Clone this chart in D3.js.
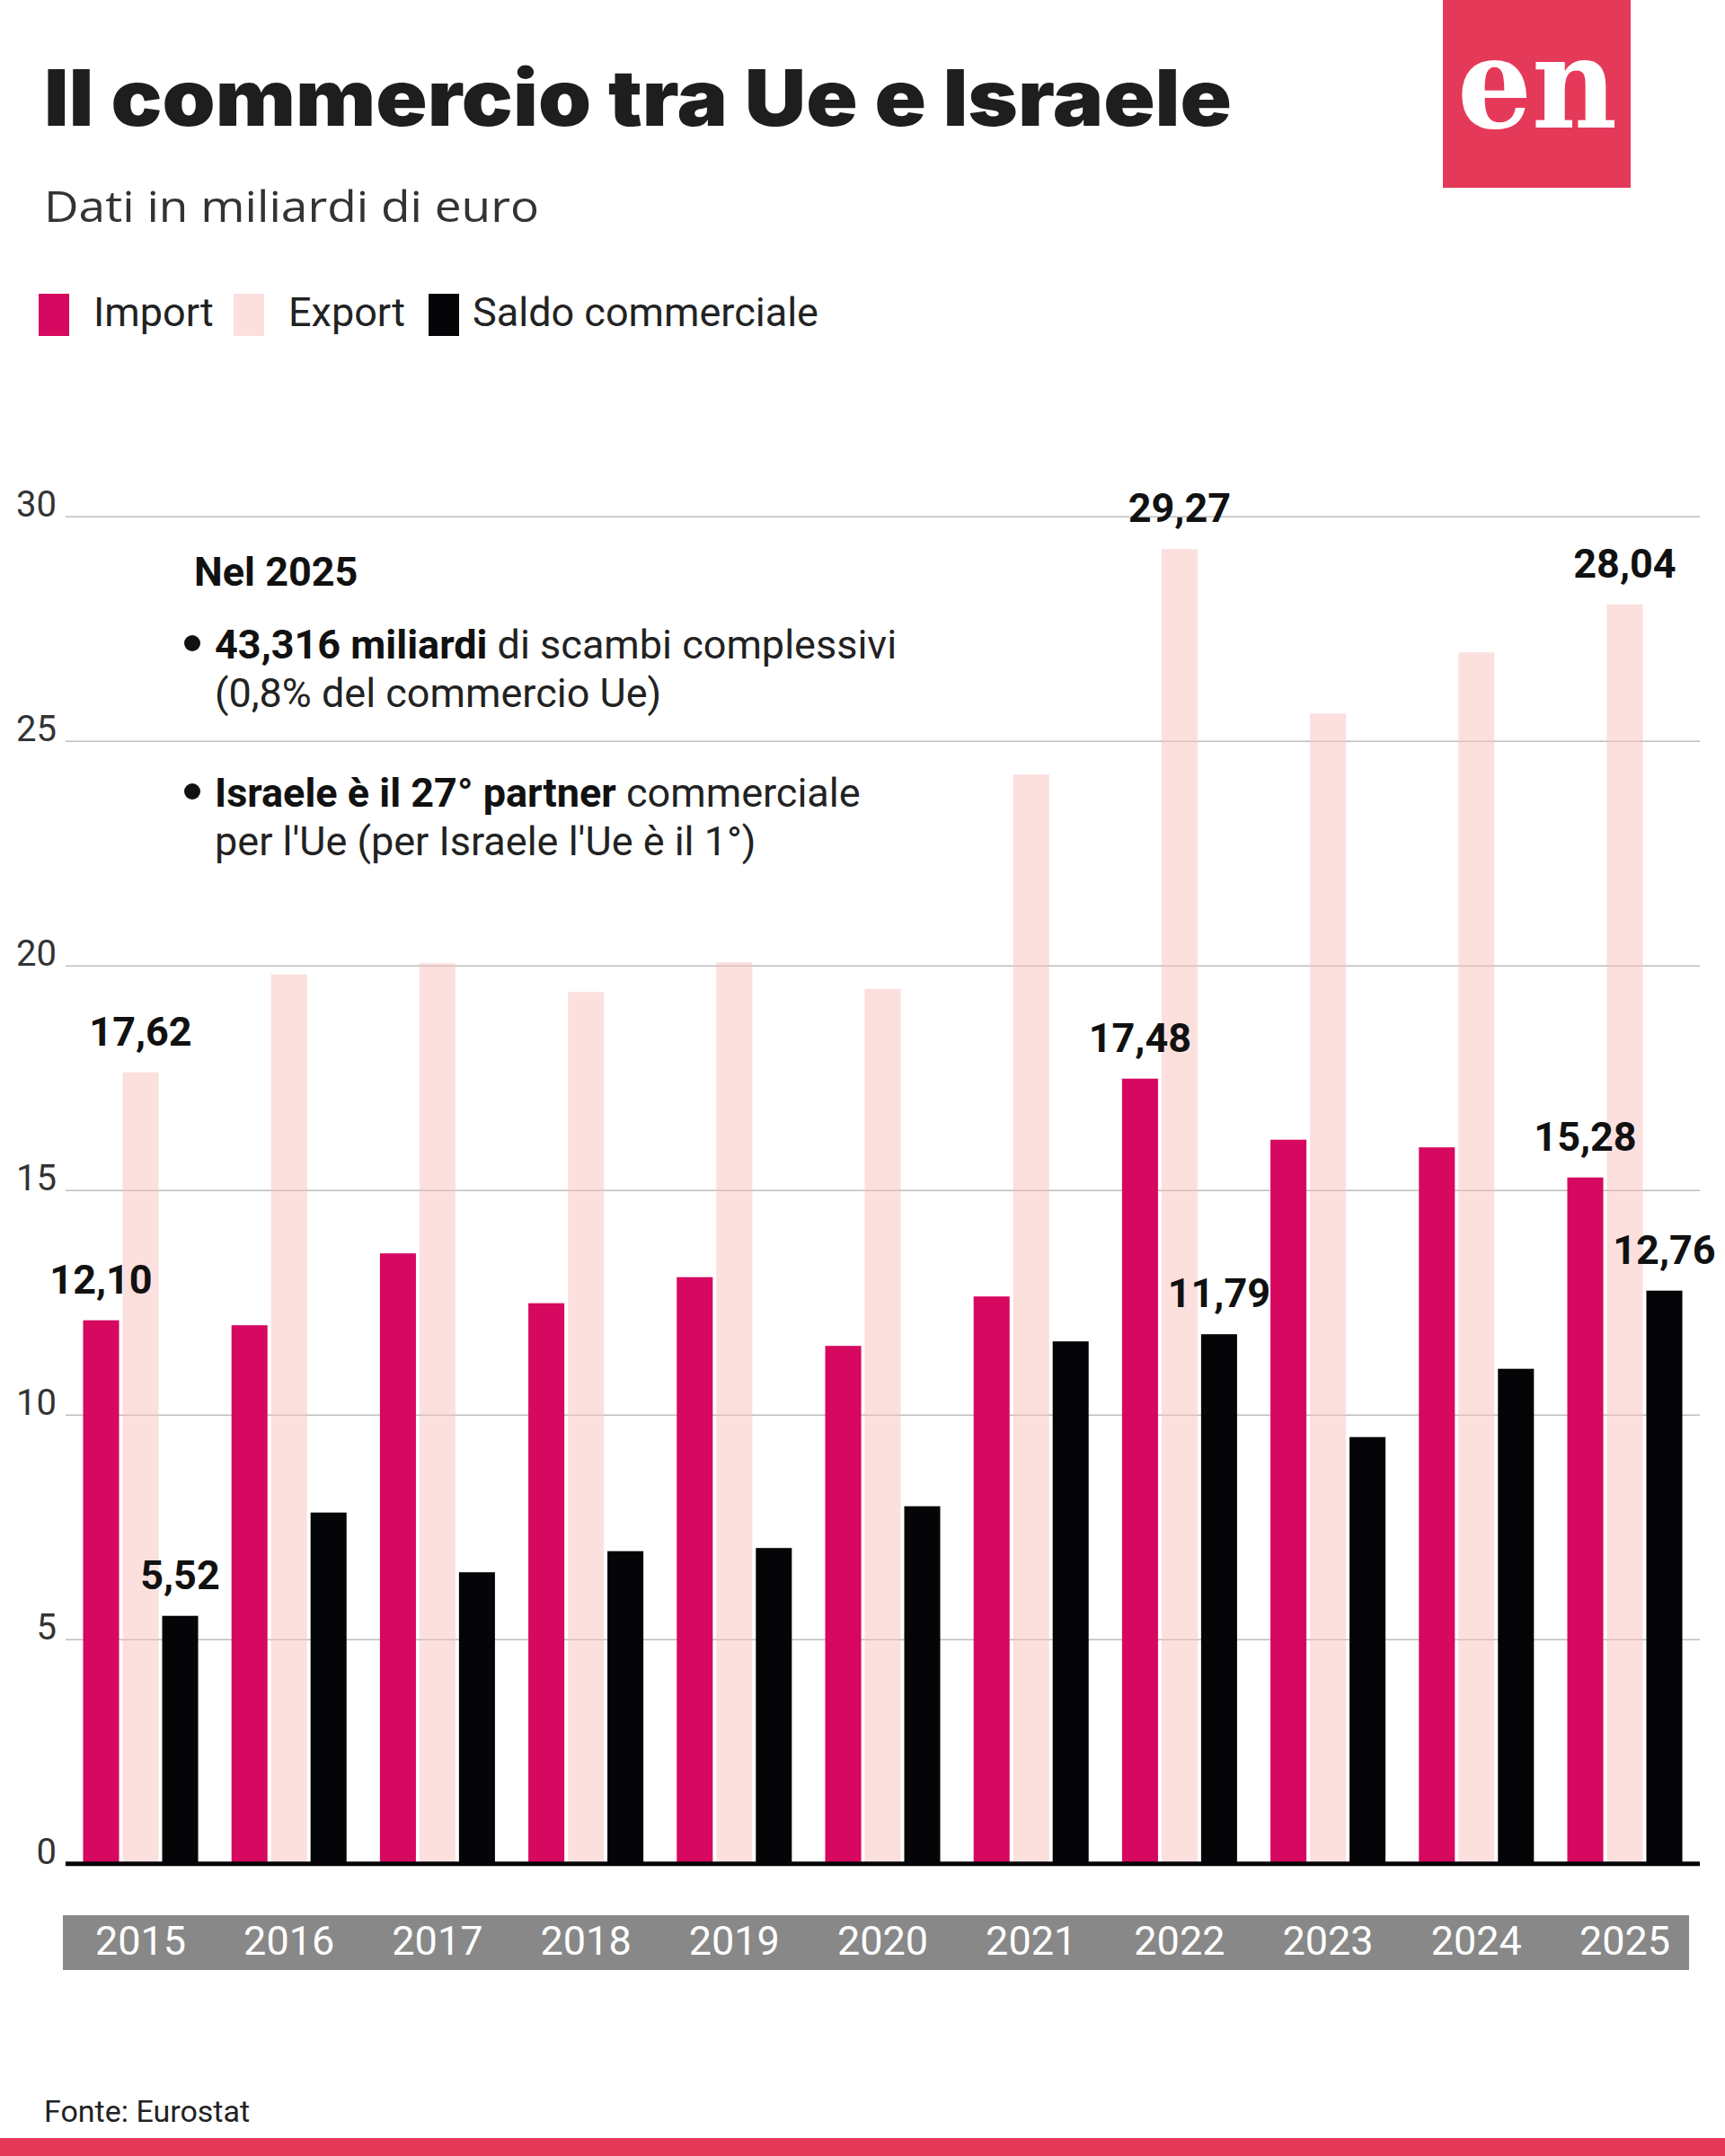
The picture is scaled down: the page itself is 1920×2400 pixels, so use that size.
<!DOCTYPE html>
<html>
<head>
<meta charset="utf-8">
<script src="https://cdn.jsdelivr.net/npm/d3@7"></script>
<style>
  body { margin: 0; background: #fff; }
  text { font-family: Roboto, "Noto Sans", sans-serif; }
</style>
</head>
<body>
<div id="chart"></div>
<script>
// data (miliardi di euro)
var years = ["2015", "2016", "2017", "2018", "2019", "2020", "2021", "2022", "2023", "2024", "2025"];
var importVals = [12.10, 11.99, 13.59, 12.48, 13.06, 11.53, 12.63, 17.48, 16.12, 15.95, 15.28];
var exportVals = [17.62, 19.80, 20.05, 19.41, 20.07, 19.48, 24.25, 29.27, 25.61, 26.97, 28.04];
var saldoVals = [5.52, 7.82, 6.49, 6.96, 7.03, 7.96, 11.63, 11.79, 9.50, 11.02, 12.76];
var seriesNames = ["Import", "Export", "Saldo commerciale"];
var labeledYears = ["2015", "2022", "2025"];
var yTicks = [0, 5, 10, 15, 20, 25, 30];

var width = 1920,
    height = 2400;

var colors = { "Import": "#d6085f", "Export": "#f7c1bd", "Saldo commerciale": "#050508" };
var opac = { "Import": 1, "Export": 0.5, "Saldo commerciale": 1 };

var itFmt = d3.formatLocale({ decimal: ",", thousands: ".", grouping: [3], currency: ["", "€"] }).format(".2f");

var svg = d3.select("#chart")
    .append("svg")
    .attr("width", width)
    .attr("height", height)
    .style("display", "block");

svg.append("rect").attr("width", width).attr("height", height).attr("fill", "#fff");

// header
function fitText(sel, w) {
    sel.attr("textLength", w).attr("lengthAdjust", "spacingAndGlyphs");
}
svg.append("text")
    .attr("x", 49).attr("y", 140)
    .style("font-family", "Inter, Lato, sans-serif")
    .style("font-weight", 900)
    .style("font-size", "86px")
    .attr("fill", "#1e1e1e")
    .text("Il commercio tra Ue e Israele")
    .call(fitText, 1322);

svg.append("text")
    .attr("x", 49).attr("y", 247)
    .style("font-family", "'Open Sans', sans-serif")
    .style("font-size", "47px")
    .attr("fill", "#333")
    .text("Dati in miliardi di euro")
    .call(fitText, 551);

// logo
svg.append("rect").attr("x", 1606).attr("y", 0).attr("width", 209).attr("height", 209).attr("fill", "#e5395a");
svg.append("text")
    .attr("x", 1622).attr("y", 142)
    .style("font-family", "'DejaVu Serif', serif")
    .style("font-weight", "bold")
    .style("font-size", "140px")
    .attr("fill", "#fff")
    .text("en")
    .call(fitText, 178);

// legend
var legendX = [43, 260, 477];
var legendTextX = [61, 61, 49];
var legend = svg.selectAll(".legend")
    .data(seriesNames)
    .enter()
    .append("g")
    .attr("transform", function (d, i) { return "translate(" + legendX[i] + ",327)"; });
legend.append("rect")
    .attr("width", 34).attr("height", 47)
    .attr("fill", function (d) { return colors[d]; })
    .attr("fill-opacity", function (d) { return opac[d]; });
legend.append("text")
    .attr("x", function (d, i) { return legendTextX[i]; })
    .attr("y", 36)
    .style("font-size", "45px")
    .attr("fill", "#222")
    .text(function (d) { return d; });

// scales
var x = d3.scaleBand().domain(years).range([73, 1892]).paddingInner(0.225).paddingOuter(0.118);
var xs = d3.scaleBand().domain(seriesNames).range([0, x.bandwidth()]).paddingInner(0.09);
var y = d3.scaleLinear().domain([0, 30]).range([2074.7, 574.7]);

// grid + y labels
var yAxis = svg.append("g")
    .attr("transform", "translate(73,0)")
    .call(d3.axisLeft(y).tickValues(yTicks).tickSize(-(1892 - 73)).tickPadding(10).tickFormat(d3.format("d")));
yAxis.select(".domain").remove();
yAxis.selectAll(".tick line").attr("stroke", "#bdbdbd").attr("stroke-width", 1.5);
yAxis.selectAll(".tick text")
    .attr("dy", "0")
    .attr("y", 0)
    .style("font-family", "Roboto, sans-serif")
    .style("font-size", "40px")
    .attr("fill", "#333");

// bars
var rows = years.map(function (yr, i) {
    return { year: yr, vals: [importVals[i], exportVals[i], saldoVals[i]] };
});
var groups = svg.selectAll(".grp")
    .data(rows)
    .enter()
    .append("g")
    .attr("transform", function (d) { return "translate(" + x(d.year) + ",0)"; });

groups.selectAll("rect")
    .data(function (d) {
        return seriesNames.map(function (s, k) { return { year: d.year, key: s, value: d.vals[k] }; });
    })
    .enter()
    .append("rect")
    .attr("x", function (d) { return xs(d.key); })
    .attr("y", function (d) { return y(d.value); })
    .attr("width", xs.bandwidth())
    .attr("height", function (d) { return y(0) - y(d.value); })
    .attr("fill", function (d) { return colors[d.key]; })
    .attr("fill-opacity", function (d) { return opac[d.key]; });

// value labels
groups.filter(function (d) { return labeledYears.indexOf(d.year) >= 0; })
    .selectAll(".lbl")
    .data(function (d) {
        return seriesNames.map(function (s, k) { return { key: s, value: d.vals[k] }; });
    })
    .enter()
    .append("text")
    .attr("x", function (d) { return xs(d.key) + xs.bandwidth() / 2; })
    .attr("y", function (d) { return y(d.value) - 30; })
    .attr("text-anchor", "middle")
    .style("font-size", "45px")
    .style("font-weight", "bold")
    .attr("fill", "#111")
    .text(function (d) { return itFmt(d.value); });

// baseline
svg.append("line")
    .attr("x1", 73).attr("x2", 1892)
    .attr("y1", y(0)).attr("y2", y(0))
    .attr("stroke", "#050508").attr("stroke-width", 5);

// year band
svg.append("rect").attr("x", 70).attr("y", 2132).attr("width", 1810).attr("height", 61).attr("fill", "#888888");
svg.selectAll(".yr")
    .data(years)
    .enter()
    .append("text")
    .attr("x", function (d) { return x(d) + x.bandwidth() / 2; })
    .attr("y", 2176)
    .attr("text-anchor", "middle")
    .style("font-size", "45px")
    .attr("fill", "#fff")
    .text(function (d) { return d; });

// annotation box
var note = svg.append("g").style("font-size", "45px").attr("fill", "#111");
note.append("text").attr("x", 216).attr("y", 652).style("font-weight", "bold").text("Nel 2025");

var bullets = [
    { y: 733, bold: "43,316 miliardi", rest: " di scambi complessivi", line2: "(0,8% del commercio Ue)" },
    { y: 898, bold: "Israele è il 27° partner", rest: " commerciale", line2: "per l'Ue (per Israele l'Ue è il 1°)" }
];
bullets.forEach(function (b) {
    note.append("circle").attr("cx", 214).attr("cy", b.y - 17).attr("r", 9).attr("fill", "#111");
    var t = note.append("text").attr("x", 239).attr("y", b.y);
    t.append("tspan").style("font-weight", "bold").text(b.bold);
    t.append("tspan").attr("fill", "#222").text(b.rest);
    note.append("text").attr("x", 239).attr("y", b.y + 54).attr("fill", "#222").text(b.line2);
});

// footer
svg.append("text")
    .attr("x", 49).attr("y", 2362)
    .style("font-size", "34px")
    .attr("fill", "#222")
    .text("Fonte: Eurostat");
svg.append("rect").attr("x", 0).attr("y", 2380).attr("width", width).attr("height", 20).attr("fill", "#e5395a");
</script>
</body>
</html>
